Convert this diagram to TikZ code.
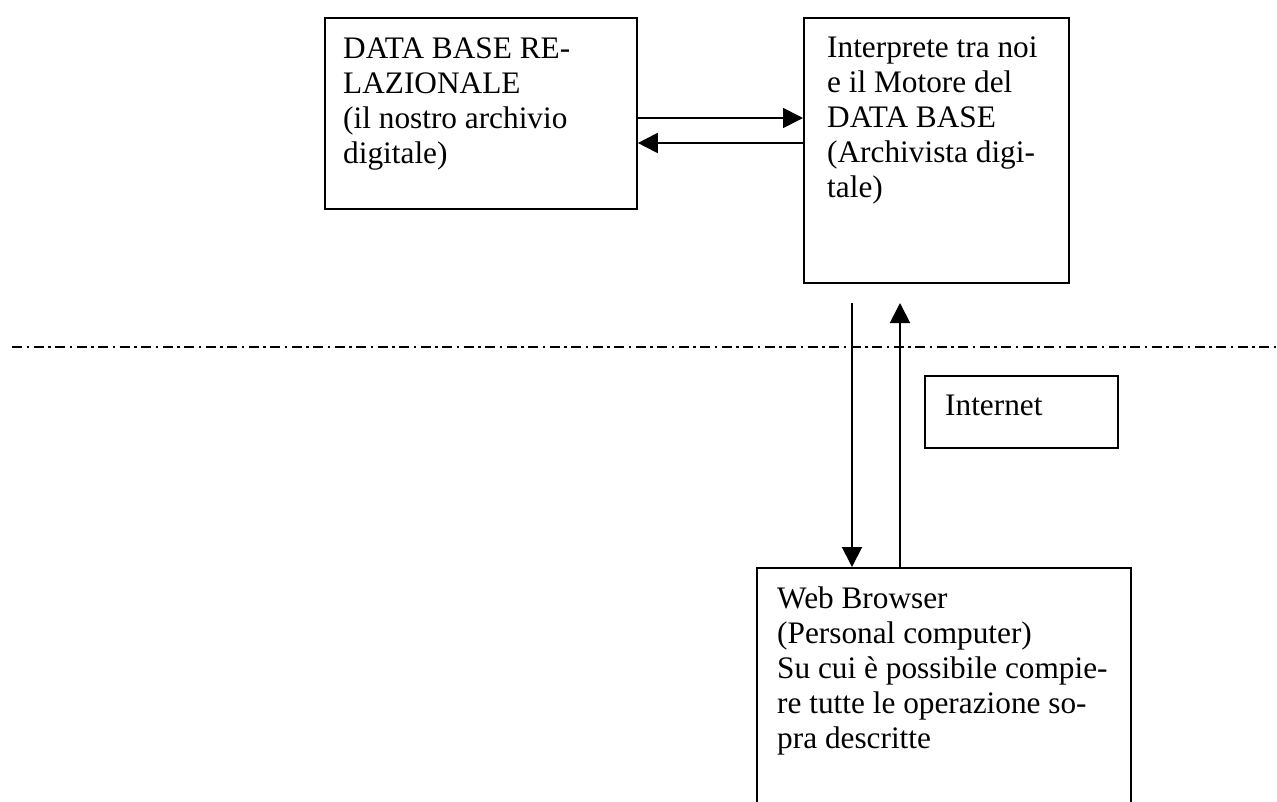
\documentclass[tikz,border=0pt]{standalone}
\usepackage{fontspec}
\setmainfont{Liberation Serif}
\usetikzlibrary{arrows.meta}
\tikzset{
  x=1pt,y=-1pt,
  box/.style={draw,line width=1.8pt,inner sep=0pt,anchor=north west},
  boxtext/.style={anchor=north west,inner sep=0pt,align=left,font=\fontsize{31.3}{35}\selectfont},
  arr/.style={line width=1.8pt,-{Triangle[length=20pt,width=20pt]}},
  sep/.style={line width=2pt,dash pattern=on 10pt off 4.5pt on 2.5pt off 4.5pt}
}
\newcommand{\fstrut}{\rule{0pt}{25pt}}
\begin{document}
\begin{tikzpicture}
\useasboundingbox (0,0) rectangle (1277,801);
\clip (0,0) rectangle (1277,801);
\fill[white] (0,0) rectangle (1277,801);

% boxes
\node[box,minimum width=312pt,minimum height=191pt] (b1) at (324,17) {};
\node[box,minimum width=265pt,minimum height=265pt] (b2) at (803,17) {};
\node[box,minimum width=193pt,minimum height=72pt] (b4) at (924,375) {};
\node[box,minimum width=374pt,minimum height=280pt] (b3) at (756,567) {};

% texts
\node[boxtext] (t1) at (343,33) {\fstrut DATA BASE RE-\\LAZIONALE\\(il nostro archivio\\digitale)};
\node[boxtext] (t2) at (827,32) {\fstrut Interprete tra noi\\e il Motore del\\DATA BASE\\(Archivista digi-\\tale)};
\node[boxtext] (t4) at (945,390) {\fstrut Internet};
\node[boxtext] (t3) at (777,583) {\fstrut Web Browser\\(Personal computer)\\Su cui è possibile compie-\\re tutte le operazione so-\\pra descritte};

% separator
\coordinate (sl) at (12,347);
\coordinate (sr) at (1277,347);
\draw[sep] (sl) -- (sr);

% horizontal arrows
\draw[arr] (b1.east |- 0,118) -- (b2.west |- 0,118);
\draw[arr] (b2.west |- 0,143) -- (b1.east |- 0,143);

% vertical arrows
\coordinate (d0) at (852,303);
\coordinate (u1) at (900,303);
\draw[arr] (d0) -- (d0 |- b3.north);
\draw[arr] (u1 |- b3.north) -- (u1);
\end{tikzpicture}
\end{document}
